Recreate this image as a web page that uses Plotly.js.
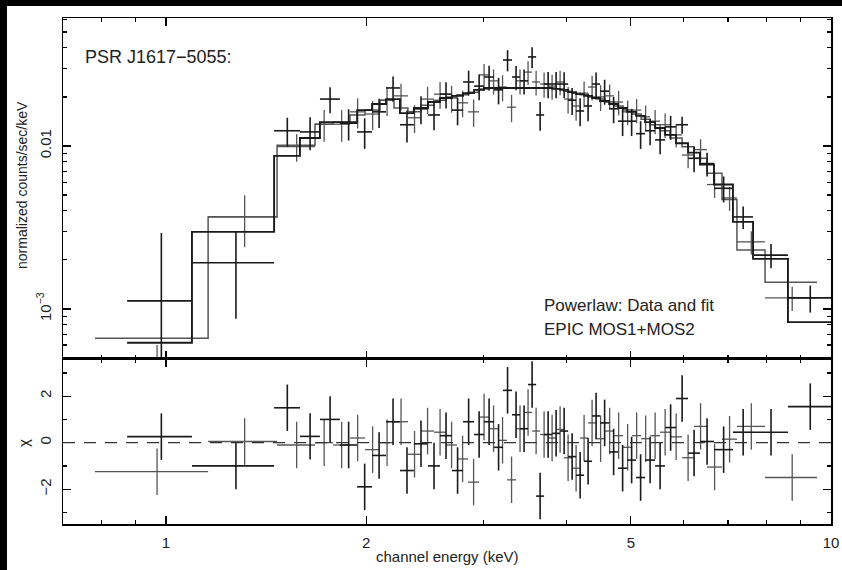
<!DOCTYPE html>
<html><head><meta charset="utf-8">
<script src="https://cdn.plot.ly/plotly-3.0.1.min.js"></script>
<style>
html,body{margin:0;padding:0;background:#fff;width:842px;height:570px;overflow:hidden}
#plot{position:absolute;left:7px;top:6px;width:835px;height:564px}
.band{position:absolute;background:#000;z-index:10}
</style></head><body>
<div id="plot"></div>
<div class="band" style="left:0;top:0;width:842px;height:6px"></div>
<div class="band" style="left:0;top:0;width:7px;height:570px"></div>
<script>
// MOS1 (darker): bin edges (keV), flux, error, model, residual (chi)
const edgesA = [0.874,1.094,1.454,1.590,1.704,1.826,1.938,2.041,2.142,2.248,2.359,2.477,2.582,2.692,2.797,2.906,3.008,3.114,3.212,3.314,3.407,3.503,3.602,3.703,3.807,3.914,4.024,4.137,4.253,4.372,4.495,4.638,4.784,4.936,5.092,5.253,5.438,5.630,5.848,6.096,6.353,6.669,7.121,7.634,8.615,10.0];
const fluxA = [0.00112,0.00192,0.0124,0.0122,0.0194,0.0138,0.0122,0.0162,0.0227,0.0135,0.0169,0.0155,0.0208,0.0166,0.0247,0.0233,0.0265,0.0221,0.0337,0.0265,0.0251,0.0352,0.0155,0.0240,0.0240,0.0240,0.0191,0.0164,0.0176,0.0240,0.0217,0.0169,0.0142,0.0142,0.0119,0.0124,0.0109,0.0131,0.0135,0.0084,0.0078,0.0055,0.00367,0.00214,0.00117];
const errA = [0.0018,0.00105,0.0025,0.0028,0.0035,0.0030,0.0026,0.0033,0.0040,0.0030,0.0033,0.0030,0.0038,0.0032,0.0043,0.0042,0.0046,0.0041,0.0050,0.0045,0.0044,0.0052,0.0031,0.0044,0.0044,0.0043,0.0036,0.0032,0.0034,0.0042,0.0038,0.0031,0.0027,0.0027,0.0023,0.0023,0.0020,0.0022,0.0016,0.0015,0.0013,0.0010,0.00058,0.00036,0.00022];
const modelA = [0.00062,0.00297,0.0087,0.0112,0.0140,0.0140,0.0166,0.0181,0.0194,0.0159,0.0171,0.0186,0.0197,0.0203,0.0211,0.0221,0.0227,0.0227,0.0227,0.0227,0.0227,0.0227,0.0227,0.0227,0.0224,0.0221,0.0214,0.0208,0.0203,0.0197,0.0189,0.0181,0.0171,0.0162,0.0153,0.0140,0.0129,0.0117,0.0104,0.0091,0.0077,0.0058,0.00342,0.00203,0.00083];
const residA = [0.26,-1.0,1.5,0.27,1.0,-0.1,-1.9,-0.55,0.9,-1.2,-0.05,-1.0,0.3,-1.2,0.9,0.35,0.9,-0.2,2.25,1.2,0.6,2.5,-2.3,0.35,0.4,0.5,-0.6,-1.4,-0.8,1.15,0.85,-0.4,-1.1,-0.75,-1.5,-0.75,-1.0,0.65,1.9,-0.45,0.05,-0.3,0.45,0.45,1.55];

// MOS2 (lighter)
const edgesB = [0.782,1.157,1.469,1.675,1.783,1.891,1.992,2.098,2.202,2.311,2.418,2.529,2.637,2.739,2.846,2.956,3.060,3.157,3.257,3.360,3.454,3.552,3.652,3.754,3.860,3.968,4.080,4.194,4.312,4.433,4.574,4.719,4.868,5.022,5.181,5.345,5.533,5.728,5.971,6.223,6.509,6.856,7.220,7.958,9.527];
const fluxB = [0.00030,0.00369,0.0099,0.0136,0.0136,0.0162,0.0157,0.0191,0.0203,0.0149,0.0194,0.0208,0.0197,0.0184,0.0162,0.0273,0.0251,0.0230,0.0173,0.0251,0.0284,0.0247,0.0240,0.0233,0.0247,0.0194,0.0176,0.0211,0.0230,0.0200,0.0203,0.0186,0.0162,0.0166,0.0151,0.0142,0.0135,0.0117,0.0088,0.0095,0.0058,0.0048,0.00258,0.00117];
const errB = [0.00030,0.0013,0.0019,0.0030,0.0030,0.0034,0.0032,0.0038,0.0038,0.0029,0.0037,0.0039,0.0037,0.0034,0.0031,0.0046,0.0044,0.0042,0.0033,0.0044,0.0047,0.0043,0.0042,0.0041,0.0042,0.0036,0.0033,0.0038,0.0040,0.0036,0.0035,0.0032,0.0028,0.0028,0.0026,0.0024,0.0023,0.0019,0.0015,0.0015,0.0010,0.0008,0.00042,0.00020];
const modelB = [0.00066,0.00367,0.0101,0.0136,0.0140,0.0155,0.0166,0.0191,0.0171,0.0162,0.0178,0.0191,0.0200,0.0206,0.0214,0.0224,0.0227,0.0227,0.0227,0.0227,0.0227,0.0227,0.0227,0.0227,0.0224,0.0217,0.0211,0.0206,0.0200,0.0194,0.0186,0.0176,0.0166,0.0157,0.0146,0.0135,0.0124,0.0112,0.0099,0.0084,0.0068,0.0047,0.0023,0.00146];
const residB = [-1.25,0.05,-0.1,0.0,-0.1,0.2,-0.3,0.0,0.9,-0.5,0.5,0.45,-0.1,-0.7,-1.7,1.1,0.6,0.1,-1.6,0.6,1.3,0.5,0.35,0.2,0.57,-0.65,-1.1,0.2,0.85,0.17,0.5,0.3,-0.2,0.3,0.17,0.3,0.45,0.25,-0.65,0.7,-1.05,0.15,0.7,-1.5];

const xTickVals = [1,2,5,10];
const xTickText = ['1','2','5','10'];
const xMinor = [0.7,0.8,0.9,3,4,6,7,8,9];
const yTickVals = [0.001,0.01];
const yTickText = ['10<sup>\u22123</sup>','0.01'];
const yMinor = [5e-4,6e-4,7e-4,8e-4,9e-4,2e-3,3e-3,4e-3,5e-3,6e-3,7e-3,8e-3,9e-3,0.02,0.03,0.04,0.05,0.06];
const rTickVals = [-2,0,2];
const rTickText = ['\u22122','0','2'];
const rMinor = [-3,-1,1,3];

function series(edges, flux, err, model, resid, color, w, mw){
  const n = flux.length;
  const c=[], ep=[], em=[], eyp=[], eym=[];
  for(let i=0;i<n;i++){
    const lo=edges[i], hi=edges[i+1], m=(lo+hi)/2;
    c.push(m); ep.push(hi-m); em.push(m-lo);
    eyp.push(err[i]); eym.push(Math.min(err[i], flux[i]*0.97));
  }
  const ex = {type:'data',symmetric:false,array:ep,arrayminus:em,width:0,thickness:w,color:color};
  const data = {x:c,y:flux,xaxis:'x',yaxis:'y',mode:'markers',marker:{size:1,color:color},
    error_x:ex,error_y:{type:'data',symmetric:false,array:eyp,arrayminus:eym,width:0,thickness:w,color:color},
    hoverinfo:'skip',showlegend:false};
  const mod = {x:edges.slice(0,n+1),y:model.concat([model[n-1]]),xaxis:'x',yaxis:'y',mode:'lines',
    line:{shape:'hv',color:color,width:mw},hoverinfo:'skip',showlegend:false};
  const res = {x:c,y:resid,xaxis:'x2',yaxis:'y2',mode:'markers',marker:{size:1,color:color},
    error_x:ex,error_y:{type:'constant',value:1,width:0,thickness:w,color:color},
    hoverinfo:'skip',showlegend:false};
  return [data,mod,res];
}

const traces = [].concat(
  series(edgesB, fluxB, errB, modelB, residB, '#555555', 1.3, 1.5),
  series(edgesA, fluxA, errA, modelA, residA, '#1a1a1a', 1.6, 1.9)
);

const F = 'Liberation Sans, Arial, sans-serif';
const axBase = {type:'log',range:[Math.log10(0.7),1],ticks:'inside',ticklen:8,tickwidth:1.2,tickcolor:'#000',
  showline:true,linecolor:'#000',linewidth:1.5,mirror:'ticks',showgrid:false,zeroline:false,
  tickmode:'array',tickvals:xTickVals,ticktext:xTickText,
  minor:{tickmode:'array',tickvals:xMinor,ticks:'inside',ticklen:4,tickwidth:1.2,tickcolor:'#000',showgrid:false},
  tickfont:{family:F,size:15,color:'#222'}};

const layout = {
  width:835,height:564,margin:{l:56,r:11,t:12,b:46},
  paper_bgcolor:'#fff',plot_bgcolor:'#fff',showlegend:false,
  xaxis:Object.assign({},axBase,{anchor:'y',showticklabels:false}),
  xaxis2:Object.assign({},axBase,{anchor:'y2',showticklabels:true,ticklabelstandoff:4}),
  yaxis:{type:'log',domain:[0.3261,1],anchor:'x',range:[Math.log10(4.93e-4),Math.log10(0.061)],
    ticks:'inside',ticklen:8,tickwidth:1.2,tickcolor:'#000',showline:true,linecolor:'#000',linewidth:1.5,
    mirror:'ticks',showgrid:false,zeroline:false,tickmode:'array',tickvals:yTickVals,ticktext:yTickText,
    tickangle:-90,ticklabelstandoff:5,tickfont:{family:F,size:15,color:'#222'},
    minor:{tickmode:'array',tickvals:yMinor,ticks:'inside',ticklen:4,tickwidth:1.2,tickcolor:'#000',showgrid:false}},
  yaxis2:{domain:[0,0.3261],anchor:'x2',range:[-3.5,3.6],
    ticks:'inside',ticklen:8,tickwidth:1.2,tickcolor:'#000',showline:true,linecolor:'#000',linewidth:1.5,
    mirror:'ticks',showgrid:false,zeroline:false,tickmode:'array',tickvals:rTickVals,ticktext:rTickText,
    tickangle:-90,ticklabelstandoff:5,tickfont:{family:F,size:15,color:'#222'},
    minor:{tickmode:'array',tickvals:rMinor,ticks:'inside',ticklen:4,tickwidth:1.2,tickcolor:'#000',showgrid:false}},
  shapes:[{type:'line',xref:'x2 domain',yref:'y2',x0:0,x1:1,y0:0,y1:0,line:{color:'#333',width:1.2,dash:'12px,9px'}}],
  annotations:[
    {text:'PSR J1617\u22125055:',xref:'paper',yref:'paper',x:0.026,y:0.923,xanchor:'left',yanchor:'middle',showarrow:false,font:{family:F,size:18,color:'#222'}},
    {text:'Powerlaw: Data and fit',xref:'paper',yref:'paper',x:0.6237,y:0.4328,xanchor:'left',yanchor:'middle',showarrow:false,font:{family:F,size:17,color:'#222'}},
    {text:'EPIC MOS1+MOS2',xref:'paper',yref:'paper',x:0.6237,y:0.3834,xanchor:'left',yanchor:'middle',showarrow:false,font:{family:F,size:17,color:'#222'}},
    {text:'normalized counts/sec/keV',xref:'paper',yref:'paper',x:-0.0534,y:0.670,xanchor:'center',yanchor:'middle',textangle:-90,showarrow:false,font:{family:F,size:14,color:'#222'}},
    {text:'\u03c7',xref:'paper',yref:'paper',x:-0.052,y:0.160,xanchor:'center',yanchor:'middle',textangle:-90,showarrow:false,font:{family:F,size:15,color:'#222'}},
    {text:'channel energy (keV)',xref:'paper',yref:'paper',x:0.5,y:-0.065,xanchor:'center',yanchor:'middle',showarrow:false,font:{family:F,size:15,color:'#222'}}
  ]
};
Plotly.newPlot('plot',traces,layout,{staticPlot:true,displayModeBar:false});
</script></body></html>
